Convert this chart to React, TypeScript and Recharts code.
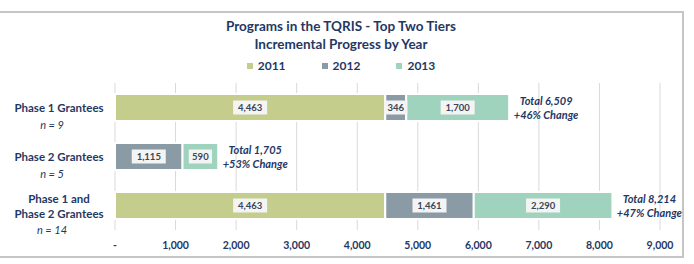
import { BarChart, Bar, XAxis, YAxis, CartesianGrid, LabelList } from 'recharts';

const categories = ['Phase 1 Grantees', 'Phase 2 Grantees', 'Phase 1 and Phase 2 Grantees'];
const categoryLines = [['Phase 1 Grantees'], ['Phase 2 Grantees'], ['Phase 1 and', 'Phase 2 Grantees']];
const groupSizes = ['n = 9', 'n = 5', 'n = 14'];
const values2011 = [4463, 0, 4463];
const values2012 = [346, 1115, 1461];
const values2013 = [1700, 590, 2290];
const totals = [6509, 1705, 8214];
const changes = ['+46%', '+53%', '+47%'];
const xTicks = [0, 1000, 2000, 3000, 4000, 5000, 6000, 7000, 8000, 9000];

const SERIES = [
  { key: 'y2011', name: '2011', color: '#c4cd8c' },
  { key: 'y2012', name: '2012', color: '#8a9ba6' },
  { key: 'y2013', name: '2013', color: '#9fd3bd' },
];

const NAVY = '#1f3864';
const FONT = 'Lato, "Open Sans", sans-serif';

const data = categories.map((name, i) => ({
  name,
  y2011: values2011[i],
  y2012: values2012[i],
  y2013: values2013[i],
  total: totals[i],
  change: changes[i],
}));

const fmt = (v: number) => v.toLocaleString('en-US');

const CategoryTick = ({ y, payload }: any) => {
  const i = categories.indexOf(payload.value);
  const lines = categoryLines[i] || [payload.value];
  const start = y - (lines.length - 1) * 7.5;
  return (
    <g fontFamily={FONT} fill={NAVY}>
      {lines.map((l, k) => (
        <text key={k} x={59} y={start + k * 15} textAnchor="middle" dominantBaseline="central"
          fontSize={11.5} fontWeight={700}>{l}</text>
      ))}
      <text x={52} y={start + (lines.length - 1) * 15 + 16.5} textAnchor="middle" dominantBaseline="central"
        fontSize={11} fontStyle="italic">{groupSizes[i]}</text>
    </g>
  );
};

const ValueBox = ({ x, y, width, height, value }: any) => {
  if (!value) return null;
  const txt = fmt(value);
  const w = txt.length * 5.4 + 7;
  const cx = x + width / 2;
  const cy = y + height / 2;
  return (
    <g>
      <rect x={cx - w / 2} y={cy - 7} width={w} height={14} fill="#f4f4f4" />
      <text x={cx} y={cy} textAnchor="middle" dominantBaseline="central" fontFamily={FONT}
        fontSize={9.5} fontWeight={700} fill="#3a4556">{txt}</text>
    </g>
  );
};

const TotalLabel = ({ x, y, width, height, index }: any) => {
  const cx = x + width + 37;
  const cy = y + height / 2;
  return (
    <g fontFamily={FONT} fill={NAVY} fontSize={11} fontWeight={700} fontStyle="italic">
      <text x={cx} y={cy - 7.5} textAnchor="middle" dominantBaseline="central">Total {fmt(totals[index])}</text>
      <text x={cx} y={cy + 6.5} textAnchor="middle" dominantBaseline="central">{changes[index]} Change</text>
    </g>
  );
};

const LegendRow = () => (
  <div style={{ display: 'flex', justifyContent: 'center', gap: 36, fontFamily: FONT, fontWeight: 700, fontSize: 12, color: NAVY }}>
    {SERIES.map((s) => (
      <div key={s.key} style={{ display: 'flex', alignItems: 'center' }}>
        <span style={{ width: 6, height: 6, background: s.color, marginRight: 5, display: 'inline-block' }} />
        {s.name}
      </div>
    ))}
  </div>
);

export default function App() {
  return (
    <div style={{ position: 'absolute', left: 0, top: 0, width: 694, height: 264, background: '#fff', overflow: 'hidden' }}>
      <div style={{ position: 'absolute', left: -3, top: 11, width: 683, height: 243, border: '2px solid #c6c6c6' }} />
      <div style={{ position: 'absolute', left: 0, width: 682, top: 17, textAlign: 'center', fontFamily: FONT, fontWeight: 700, fontSize: 13.5, lineHeight: '18px', color: NAVY }}>
        <div>Programs in the TQRIS - Top Two Tiers</div>
        <div>Incremental Progress by Year</div>
      </div>
      <div style={{ position: 'absolute', left: 0, width: 682, top: 58 }}>
        <LegendRow />
      </div>
      <div style={{ position: 'absolute', left: 0, top: 0 }}>
        <BarChart layout="vertical" width={694} height={264} data={data} barSize={27}
          margin={{ top: 83, right: 34, bottom: 0, left: 0 }}>
          <CartesianGrid horizontal={false} vertical stroke="#d9d9d9" />
          <XAxis type="number" domain={[0, 9000]} ticks={xTicks} interval={0} height={34}
            axisLine={false} tickLine={false} tickMargin={6}
            tickFormatter={(v: number) => (v === 0 ? '-' : fmt(v))}
            tick={{ fill: NAVY, fontSize: 10.5, fontWeight: 700, fontFamily: FONT }} />
          <YAxis type="category" dataKey="name" width={115} axisLine={false} tickLine={false} tick={<CategoryTick />} />
          {SERIES.map((s, i) => (
            <Bar key={s.key} dataKey={s.key} name={s.name} stackId="a" fill={s.color} stroke="#fff" strokeWidth={2}
              isAnimationActive={false}>
              <LabelList dataKey={s.key} content={<ValueBox />} />
              {i === SERIES.length - 1 && <LabelList dataKey="total" content={<TotalLabel />} />}
            </Bar>
          ))}
        </BarChart>
      </div>
    </div>
  );
}
